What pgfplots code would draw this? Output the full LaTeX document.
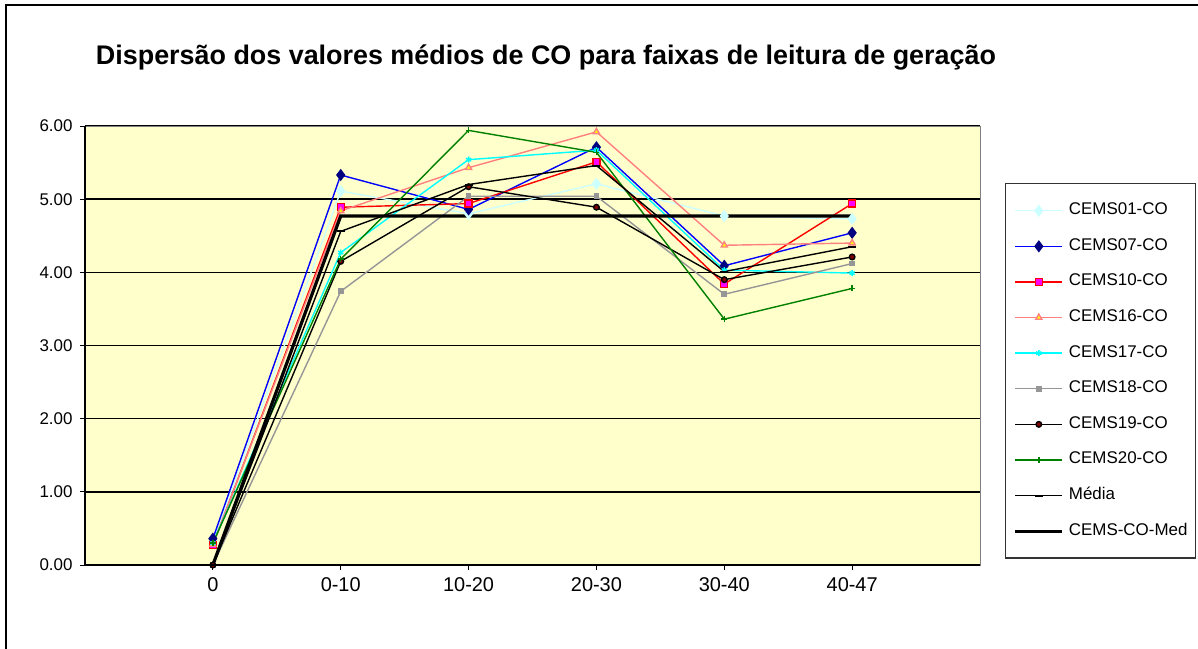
\documentclass[border=0pt]{standalone}
\usepackage{pgfplots}
\pgfplotsset{compat=1.18}
\usepackage{fontspec}
\setmainfont{Liberation Sans}
\definecolor{plotbg}{HTML}{FFFFCC}
\definecolor{c01}{HTML}{CCFFFF}
\definecolor{c07}{HTML}{0000FF}
\definecolor{c07m}{HTML}{000080}
\definecolor{c10}{HTML}{FF0000}
\definecolor{c10m}{HTML}{FF00FF}
\definecolor{c16}{HTML}{FF8080}
\definecolor{c16m}{HTML}{FFFF00}
\definecolor{c17}{HTML}{00FFFF}
\definecolor{c18}{HTML}{969696}
\definecolor{c19m}{HTML}{800000}
\definecolor{c20}{HTML}{008000}
\definecolor{frame}{HTML}{808080}
\begin{document}
\begin{tikzpicture}[x=1bp,y=1bp]
\path[use as bounding box] (0,0) rectangle (1198,-649);
\fill[white] (0,0) rectangle (1198,-649);
\draw[black, line width=1.5bp] (6,-649) -- (6,-5) -- (1198,-5);
\node[font=\fontsize{27}{31}\selectfont\bfseries] at (546,-57) {Dispersão dos valores médios de CO para faixas de leitura de geração};
\begin{axis}[
  at={(85bp,-565bp)}, anchor=south west,
  scale only axis, width=895bp, height=439bp,
  xmin=-1, xmax=6, ymin=0, ymax=6,
  axis background/.style={fill=plotbg},
  axis line style={draw=frame, line width=1bp},
  xtick={0,1,2,3,4,5},
  xticklabels={0,0-10,10-20,20-30,30-40,40-47},
  ytick={0,1,2,3,4,5,6},
  /pgf/number format/fixed, /pgf/number format/fixed zerofill, /pgf/number format/precision=2, /pgf/number format/assume math mode=true,
  yticklabel style={font=\fontsize{17}{19}\selectfont, xshift=-4bp},
  xticklabel style={font=\fontsize{20}{22}\selectfont, yshift=-4bp},
  tick align=outside, tick pos=left,
  major tick length=5bp,
  tick style={black, line width=1bp},
  ymajorgrids, grid style={black, line width=1.5bp},
  ser/.style={line width=1.4bp},
  clip=false,
  legend style={at={(axis description cs:1.0279,0.8702)}, anchor=north west, draw=black!80, line width=1.5bp,
    font=\fontsize{17}{19}\selectfont, inner xsep=8bp, inner ysep=19bp,
    nodes={text height=12bp, text depth=4bp, inner sep=0pt, line width=1bp},
    row sep=19.6bp, column sep=5bp, cells={anchor=west}},
  legend image code/.code={\draw[mark repeat=2, mark phase=2, #1] plot coordinates {(0bp,0bp) (23.5bp,0bp) (47bp,0bp)};},
]
\addplot[ser, c01, mark=diamond*, mark size=5bp, mark options={fill=c01, draw=c01}] coordinates {(0,0.32) (1,5.11) (2,4.80) (3,5.21) (4,4.77) (5,4.73)};
\addlegendentry{CEMS01-CO}
\addplot[ser, c07, mark=diamond*, mark size=5bp, mark options={fill=c07m, draw=c07m}] coordinates {(0,0.36) (1,5.33) (2,4.86) (3,5.71) (4,4.09) (5,4.54)};
\addlegendentry{CEMS07-CO}
\addplot[ser, c10, mark=square*, mark size=3.5bp, mark options={fill=c10m, draw=c10}] coordinates {(0,0.27) (1,4.89) (2,4.94) (3,5.51) (4,3.84) (5,4.94)};
\addlegendentry{CEMS10-CO}
\addplot[ser, c16, mark=triangle*, mark size=3.5bp, mark options={fill=c16m, draw=c16}] coordinates {(0,0.28) (1,4.84) (2,5.43) (3,5.92) (4,4.37) (5,4.40)};
\addlegendentry{CEMS16-CO}
\addplot[ser, c17, mark=asterisk, mark size=3bp, mark options={draw=c17}] coordinates {(0,0.30) (1,4.27) (2,5.54) (3,5.67) (4,4.03) (5,3.99)};
\addlegendentry{CEMS17-CO}
\addplot[ser, c18, mark=square*, mark size=2.2bp, mark options={fill=c18, draw=c18}] coordinates {(0,0) (1,3.74) (2,5.04) (3,5.04) (4,3.70) (5,4.12)};
\addlegendentry{CEMS18-CO}
\addplot[ser, black, mark=*, mark size=2.8bp, mark options={fill=c19m, draw=black}] coordinates {(0,0) (1,4.15) (2,5.17) (3,4.89) (4,3.90) (5,4.21)};
\addlegendentry{CEMS19-CO}
\addplot[ser, c20, mark=+, mark size=3bp, mark options={draw=c20}] coordinates {(0,0.30) (1,4.18) (2,5.94) (3,5.64) (4,3.36) (5,3.78)};
\addlegendentry{CEMS20-CO}
\addplot[ser, black, mark=-, mark size=4bp, mark options={draw=black, line width=2bp}] coordinates {(0,0) (1,4.56) (2,5.20) (3,5.46) (4,4.01) (5,4.35)};
\addlegendentry{Média}
\addplot[black, line width=3.2bp] coordinates {(0,0) (1,4.77) (2,4.77) (3,4.77) (4,4.77) (5,4.77)};
\addlegendentry{CEMS-CO-Med}
\draw[black, line width=1.5bp] (rel axis cs:0,1) -- (rel axis cs:0,0) -- (rel axis cs:1,0);
\end{axis}
\end{tikzpicture}
\end{document}
